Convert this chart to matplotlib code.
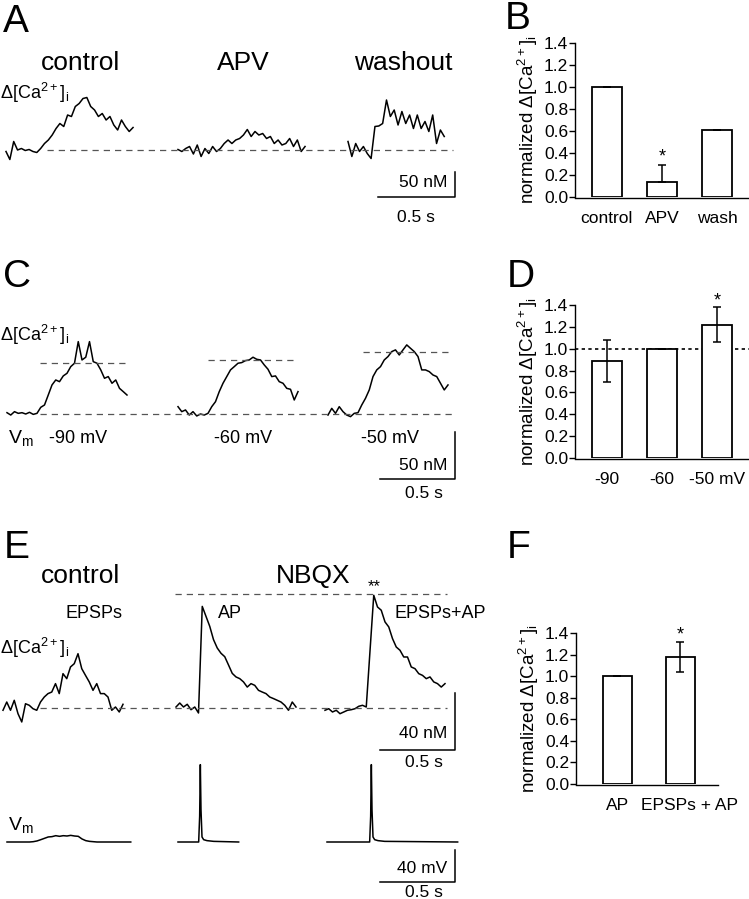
"""
Ca2+ transients and normalized amplitudes (panels A-F)
"""
import matplotlib
matplotlib.use('Agg')
import matplotlib.pyplot as plt
from matplotlib.transforms import ScaledTranslation
import numpy as np

plt.rcParams['font.family'] = ['Liberation Sans', 'DejaVu Sans']
plt.rcParams['mathtext.fontset'] = 'custom'
plt.rcParams['mathtext.rm'] = 'Liberation Sans'
plt.rcParams['mathtext.default'] = 'regular'

W, H = 749, 899
DT = 0.025  # s between trace samples

# ---- A: d[Ca2+]i (nM), control / APV / washout
ca_a_control = [-3, -19, 17, 0, 3, -1, 1, -3, -5, 3, 13, 20, 30, 43, 53, 47, 70, 67,
                87, 93, 103, 105, 87, 80, 67, 73, 60, 67, 50, 40, 60, 47, 37, 45]
ca_a_apv = [1, -3, 3, 7, -8, 10, -13, 3, -7, 7, -3, 3, 13, 20, 13, 20, 23, 30, 41, 27,
            37, 30, 33, 23, 27, 13, 20, 10, 13, 23, 7, 20, -3, 7]
ca_a_wash = [17, -13, 13, -3, 7, -7, -17, 47, 48, 53, 100, 67, 80, 50, 77, 53, 70, 43,
             70, 43, 57, 37, 70, 13, 40, 27]

# ---- C: d[Ca2+]i (nM) at three holding potentials
ca_c_90 = [1.4, -1.1, 2.5, 0.7, 1.4, 0, 1.8, -0.4, 0.7, 7.1, 9.6, 20.2, 30.9, 36.2, 34.4,
           40.5, 43.3, 50.4, 54, 77, 57.5, 60.4, 77, 55.7, 54, 46.9, 38, 39.8, 32.7, 36.2,
           27.3, 23.8, 20.2]
ca_c_60 = [7.8, 2.5, 4.3, -1.1, 2.5, -2.1, 0, -1.1, 0.7, 7.8, 13.1, 23.8, 32.7, 39.8, 46.9,
           50.4, 54, 54.7, 56.8, 57.5, 60.4, 58.2, 57.5, 52.2, 47.6, 39.8, 40.5, 34.4, 32.7,
           27.3, 26.3, 14.9, 23.8]
ca_c_50 = [-1.1, 6, 0.7, 7.8, 2.5, -1.1, -2.8, 0.7, 1.4, 9.6, 16.7, 25.6, 39.8, 46.9, 50.4,
           57.5, 61.1, 66.4, 68.2, 62.8, 68.2, 73.5, 69.9, 66.4, 61.1, 46.9, 46.9, 45.1,
           41.5, 39.8, 32.7, 25.6, 30.9]
peak_c = [54, 57.5, 66.4]  # dashed peak references
labels_c = ['-90 mV', '-60 mV', '-50 mV']

# ---- E: d[Ca2+]i (nM), EPSPs / AP / EPSPs+AP
ca_e_epsp = [-1.6, 4.2, -1.6, 5.4, -4, -9.8, 3, 1.9, -0.5, -1.6, 4.2, 7.7, 10.1, 11.2,
             17.1, 10.1, 24.1, 20.6, 28.8, 31.1, 38.1, 27.6, 22.9, 18.3, 12.4, 17.1, 10.1,
             10.1, 7.7, -1.6, 0.7, -2.8, 2.6]
ca_e_ap = [0.7, 3.5, 0.7, 2.6, -1.2, 0.7, -3.5, 71.3, 64.3, 57.3, 48, 42.1, 38.4, 36, 30.2,
           24.3, 21.8, 20.6, 18.3, 14.7, 17.1, 15.9, 12.4, 11.2, 10.1, 7.7, 6.6, 5.4, 4.2,
           1.9, -1.6, 4.2, 0.7]
ca_e_both = [-1.6, -0.5, -2.8, -1.6, -4, -2.8, -1.6, -1.2, -0.5, 1.2, 1.9, 0.7, 40, 79.1,
             70.9, 68.6, 60.4, 56.9, 48.7, 42.8, 40.5, 35.8, 35.8, 28.8, 27.6, 24.1, 22.9,
             20.6, 21.8, 18.3, 17.1, 14.7, 17.1]
peak_e = 79.8

# ---- E: Vm (mV above rest)
vm_epsp = [0, 0, 0, 0, 0, 0, 0, 0.4, 1.3, 2.9, 4.6, 6.3, 6.7, 7.9, 7.1, 7.9, 7.5, 8.3,
           7.5, 7.1, 3.8, 1.7, 0.8, 0.4, 0, 0, 0, 0, 0, 0, 0, 0, 0, 0]
vm_ap_t = [0, 137.8, 144.4, 148.9, 153.3, 160, 171.1, 193.3, 237.8, 404.4]  # ms
vm_ap_v = [0, 0, 32.1, 96.7, 40.4, 6.3, 2.9, 1.7, 0.8, 0]
vm_both_t = [0, 284.4, 291.1, 295.6, 300, 306.7, 317.8, 340, 384.4, 871.1]
vm_both_v = [0, 0, 32.1, 96.7, 40.4, 6.3, 2.9, 1.7, 0.8, 0]

# ---- bar summaries (normalized)
b_cats = ['control', 'APV', 'wash']
b_vals = [1.0, 0.14, 0.61]
b_err_up = [0, 0.15, 0]
d_cats = ['-90', '-60', '-50 mV']
d_vals = [0.89, 1.0, 1.22]
d_err = [0.19, 0, 0.16]
f_cats = ['AP', 'EPSPs + AP']
f_vals = [1.0, 1.18]
f_err = [0, 0.14]

fig = plt.figure(figsize=(W / 100, H / 100), dpi=100)
CA_LABEL = 'Δ[Ca$^{2+}$]$_{i}$'
YLAB = 'normalized Δ[Ca$^{2+}$]$_{i}$'


def px_axes(x0, y0, x1, y1):
    return fig.add_axes([x0 / W, 1 - y1 / H, (x1 - x0) / W, (y1 - y0) / H])


def ftext(x, y, s, **kw):
    kw.setdefault('va', 'baseline')
    fig.text(x / W, 1 - y / H, s, **kw)


def trace_axes(y0, y1, base, px_s, px_u):
    ax = px_axes(0, y0, 460, y1)
    ax.set_xlim(0, 460 / px_s)
    ax.set_ylim(-(y1 - base) / px_u, (base - y0) / px_u)
    ax.axis('off')
    return ax


def trace(ax, vals, start_px, px_s):
    t = start_px / px_s + np.arange(len(vals)) * DT
    ax.plot(t, vals, color='k', lw=1.1, clip_on=False)


def dashed(ax, x0, x1, v, px_s):
    ax.plot([x0 / px_s, x1 / px_s], [v, v], color='#555555', lw=0.9,
            ls=(0, (5, 4)), clip_on=False)


def scale_bar(ax, y_px, base, px_s, px_u, t_len, v_len):
    xr = 455 / px_s
    yb = (base - y_px) / px_u
    ax.plot([xr - t_len, xr, xr], [yb, yb, yb + v_len], color='k', lw=1.1,
            clip_on=False)


def bar_axes(x0, x1, y_top, y_zero, cats, vals, xlim, width):
    ax = px_axes(x0, y_top, x1, y_zero)
    x = np.arange(len(vals))
    ax.bar(x, vals, width=width, color='white', edgecolor='k', lw=1.3, zorder=2)
    ax.set_ylim(0, 1.4)
    ax.set_xlim(*xlim)
    for s in ['top', 'right']:
        ax.spines[s].set_visible(False)
    ax.spines['left'].set_bounds(0, 1.4)
    ax.spines['bottom'].set_position(('outward', 1))
    ax.spines['left'].set_linewidth(1.0)
    ax.spines['bottom'].set_linewidth(1.0)
    ax.set_yticks(np.arange(0, 1.41, 0.2))
    ax.set_yticklabels(['%.1f' % v for v in np.arange(0, 1.41, 0.2)])
    ax.tick_params(axis='y', direction='out', length=4, width=1, labelsize=12.5, pad=1)
    ax.set_xticks(x)
    ax.set_xticklabels(cats)
    ax.tick_params(axis='x', length=0, labelsize=12.5, pad=9)
    ax.set_ylabel(YLAB, fontsize=13.5, labelpad=3)
    return ax


# ======================= A
pxs_a, pxu_a, base_a = 154, 0.5, 150
ax = trace_axes(70, 225, base_a, pxs_a, pxu_a)
trace(ax, ca_a_control, 6, pxs_a)
trace(ax, ca_a_apv, 178, pxs_a)
trace(ax, ca_a_wash, 348, pxs_a)
dashed(ax, 47, 453, 0, pxs_a)
scale_bar(ax, 197, base_a, pxs_a, pxu_a, 0.5, 50)
ftext(3, 32, 'A', fontsize=28)
ftext(80, 70, 'control', fontsize=19, ha='center')
ftext(243, 70, 'APV', fontsize=19, ha='center')
ftext(403, 70, 'washout', fontsize=19, ha='center')
ftext(0, 99, CA_LABEL, fontsize=13)
ftext(447, 187, '50 nM', fontsize=12.5, ha='right')
ftext(416, 222, '0.5 s', fontsize=12.5, ha='center')

# ======================= C
pxs_c, pxu_c, base_c = 150, 0.94, 414
ax = trace_axes(320, 500, base_c, pxs_c, pxu_c)
trace(ax, ca_c_90, 7, pxs_c)
trace(ax, ca_c_60, 178, pxs_c)
trace(ax, ca_c_50, 328, pxs_c)
dashed(ax, 40, 455, 0, pxs_c)
for x0, v in zip([40, 208, 363], peak_c):
    dashed(ax, x0, x0 + 90, v, pxs_c)
scale_bar(ax, 479, base_c, pxs_c, pxu_c, 0.5, 50)
ftext(3, 287, 'C', fontsize=28)
ftext(0, 341, CA_LABEL, fontsize=13)
ftext(8, 443, 'V$_m$', fontsize=14)
for xc, s in zip([78, 243, 390], labels_c):
    ftext(xc, 443, s, fontsize=13, ha='center')
ftext(447, 470, '50 nM', fontsize=12.5, ha='right')
ftext(424, 498, '0.5 s', fontsize=12.5, ha='center')

# ======================= E (Ca)
pxs_e, pxu_e, base_e = 150, 1.425, 708
ax = trace_axes(585, 770, base_e, pxs_e, pxu_e)
trace(ax, ca_e_epsp, 3, pxs_e)
trace(ax, ca_e_ap, 176, pxs_e)
trace(ax, ca_e_both, 325, pxs_e)
dashed(ax, 40, 447, 0, pxs_e)
dashed(ax, 175, 447, peak_e, pxs_e)
scale_bar(ax, 750, base_e, pxs_e, pxu_e, 0.5, 40)
ftext(4, 558, 'E', fontsize=28)
ftext(80, 583, 'control', fontsize=19, ha='center')
ftext(313, 583, 'NBQX', fontsize=19, ha='center')
ftext(374, 591, '**', fontsize=12, ha='center')
ftext(94, 618, 'EPSPs', fontsize=13, ha='center')
ftext(218, 618, 'AP', fontsize=13)
ftext(395, 618, 'EPSPs+AP', fontsize=13)
ftext(0, 654, CA_LABEL, fontsize=13)
ftext(447, 738, '40 nM', fontsize=12.5, ha='right')
ftext(424, 767, '0.5 s', fontsize=12.5, ha='center')

# ======================= E (Vm)
pxs_v, pxu_v, base_v = 150, 0.8, 842
ax = trace_axes(760, 899, base_v, pxs_v, pxu_v)
trace(ax, vm_epsp, 7, pxs_v)
ax.plot(178 / pxs_v + np.array(vm_ap_t) / 1000, vm_ap_v, color='k', lw=1.1, clip_on=False)
ax.plot(327 / pxs_v + np.array(vm_both_t) / 1000, vm_both_v, color='k', lw=1.1,
        clip_on=False)
scale_bar(ax, 882, base_v, pxs_v, pxu_v, 0.5, 40)
ftext(8, 830, 'V$_m$', fontsize=14)
ftext(447, 873, '40 mV', fontsize=12.5, ha='right')
ftext(424, 897, '0.5 s', fontsize=12.5, ha='center')

# ======================= B
ax = bar_axes(575, 749, 43, 197, b_cats, b_vals, (-0.58, 2.58), 0.53)
ax.errorbar(np.arange(3), b_vals, yerr=[[0, 0, 0], b_err_up], fmt='none', ecolor='k',
            elinewidth=1.1, capsize=3, capthick=1.1, zorder=3)
ax.text(1, 0.36, '*', ha='center', va='center', fontsize=13)
ftext(505, 29, 'B', fontsize=28)

# ======================= D
ax = bar_axes(575, 749, 305, 458, d_cats, d_vals, (-0.58, 2.58), 0.53)
ax.errorbar(np.arange(3), d_vals, yerr=d_err, fmt='none', ecolor='k',
            elinewidth=1.1, capsize=3, capthick=1.1, zorder=3)
ax.axhline(1.0, color='k', lw=1.2, ls=(0, (2, 2)), zorder=1, clip_on=False)
ax.text(2, 1.44, '*', ha='center', va='center', fontsize=13, clip_on=False)
ftext(507, 287, 'D', fontsize=28)

# ======================= F
ax = bar_axes(576, 718, 633, 784, f_cats, f_vals, (-0.66, 1.6), 0.46)
ax.errorbar(np.arange(2), f_vals, yerr=f_err, fmt='none', ecolor='k',
            elinewidth=1.1, capsize=3, capthick=1.1, zorder=3)
ax.text(1, 1.38, '*', ha='center', va='center', fontsize=13, clip_on=False)
lab = ax.get_xticklabels()[1]
lab.set_transform(lab.get_transform() + ScaledTranslation(0.09, 0, fig.dpi_scale_trans))
ftext(507, 558, 'F', fontsize=28)

fig.savefig('out.png', dpi=100)
